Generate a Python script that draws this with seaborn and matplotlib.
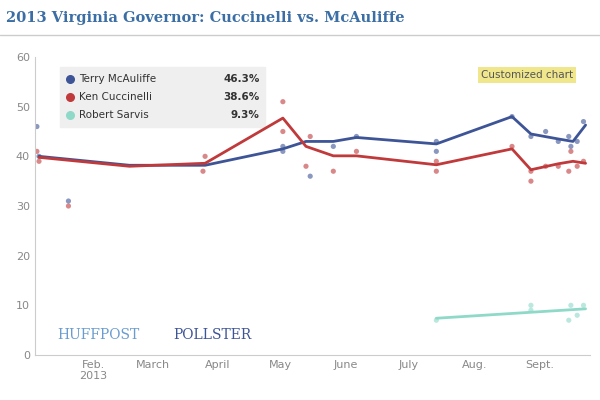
import pandas as pd
import numpy as np
import matplotlib.pyplot as plt
import seaborn as sns

# trend lines
mca_dates = ['2013-01-06', '2013-02-18', '2013-03-26', '2013-05-02', '2013-05-13', '2013-05-26',
             '2013-06-06', '2013-07-14', '2013-08-19', '2013-08-28', '2013-09-10', '2013-09-17', '2013-09-23']
mca_trend = [40.0, 38.2, 38.2, 41.5, 43.0, 43.0, 43.8, 42.5, 48.0, 44.5, 43.5, 43.0, 46.3]
cuc_trend = [39.8, 38.0, 38.6, 47.7, 42.0, 40.1, 40.1, 38.3, 41.5, 37.3, 38.5, 39.0, 38.6]
sar_dates = ['2013-07-14', '2013-09-23']
sar_trend = [7.4, 9.3]

# polls
mca_poll_dates = ['2013-01-05', '2013-01-06', '2013-01-20', '2013-05-02', '2013-05-02', '2013-05-15',
                  '2013-05-26', '2013-06-06', '2013-07-14', '2013-07-14', '2013-08-19', '2013-08-28',
                  '2013-09-04', '2013-09-10', '2013-09-15', '2013-09-16', '2013-09-19', '2013-09-22']
mca_polls = [46, 40, 31, 42, 41, 36, 42, 44, 41, 43, 48, 44, 45, 43, 44, 42, 43, 47]
cuc_poll_dates = ['2013-01-05', '2013-01-06', '2013-01-20', '2013-03-25', '2013-03-26', '2013-05-02',
                  '2013-05-02', '2013-05-13', '2013-05-15', '2013-05-26', '2013-06-06', '2013-07-14',
                  '2013-07-14', '2013-08-19', '2013-08-28', '2013-08-28', '2013-09-04', '2013-09-10',
                  '2013-09-15', '2013-09-16', '2013-09-19', '2013-09-22']
cuc_polls = [41, 39, 30, 37, 40, 51, 45, 38, 44, 37, 41, 37, 39, 42, 35, 37, 38, 38, 37, 41, 38, 39]
sar_poll_dates = ['2013-07-14', '2013-08-28', '2013-08-28', '2013-09-15', '2013-09-16', '2013-09-19', '2013-09-22']
sar_polls = [7, 9, 10, 7, 10, 8, 10]

blue, red, teal = '#3d5496', '#c0393b', '#8fd9c9'

sns.set_style('white')
fig = plt.figure(figsize=(6, 4), dpi=100)
ax = fig.add_axes([0.058, 0.1125, 0.925, 0.745])

def pts(d, v):
    return pd.DataFrame({'d': pd.to_datetime(d), 'v': v})

for d, v, c in [(mca_poll_dates, mca_polls, blue), (cuc_poll_dates, cuc_polls, red), (sar_poll_dates, sar_polls, teal)]:
    sns.scatterplot(data=pts(d, v), x='d', y='v', color=c, alpha=0.6, s=14, edgecolor='none', ax=ax)
for d, v, c in [(mca_dates, mca_trend, blue), (mca_dates, cuc_trend, red), (sar_dates, sar_trend, teal)]:
    sns.lineplot(data=pts(d, v), x='d', y='v', color=c, lw=2, ax=ax)

ax.set_xlim(pd.Timestamp('2013-01-04'), pd.Timestamp('2013-09-25'))
ax.set_ylim(0, 60)
ax.set_yticks(range(0, 61, 10))
ticks = pd.to_datetime(['2013-02-01', '2013-03-01', '2013-04-01', '2013-05-01', '2013-06-01',
                        '2013-07-01', '2013-08-01', '2013-09-01'])
ax.set_xticks(ticks)
ax.set_xticklabels(['Feb.\n2013', 'March', 'April', 'May', 'June', 'July', 'Aug.', 'Sept.'])
ax.tick_params(labelsize=8, colors='#888888', length=0)
ax.set_xlabel('')
ax.set_ylabel('')
for s in ['top', 'right']:
    ax.spines[s].set_visible(False)
for s in ['left', 'bottom']:
    ax.spines[s].set_color('#cccccc')

fig.text(0.01, 0.955, '2013 Virginia Governor: Cuccinelli vs. McAuliffe', family='DejaVu Serif',
         weight='bold', color='#3a6ea5', fontsize=10.5, va='center')
fig.add_artist(plt.Line2D([0, 1], [0.912, 0.912], color='#cccccc', lw=1))

# legend box
ax.add_patch(plt.Rectangle((0.045, 0.765), 0.37, 0.2, transform=ax.transAxes, color='#efefef', zorder=1))
for i, (name, val, c) in enumerate([('Terry McAuliffe', '46.3%', blue), ('Ken Cuccinelli', '38.6%', red),
                                    ('Robert Sarvis', '9.3%', teal)]):
    y = 0.925 - i * 0.06
    ax.scatter([0.063], [y], transform=ax.transAxes, color=c, s=30, zorder=3)
    ax.text(0.08, y, name, transform=ax.transAxes, va='center', fontsize=7.5, color='#333333')
    ax.text(0.405, y, val, transform=ax.transAxes, va='center', ha='right', fontsize=7.5, weight='bold', color='#333333')

ax.text(0.97, 0.94, 'Customized chart', transform=ax.transAxes, ha='right', va='center', fontsize=7.5,
        color='#555555', bbox=dict(boxstyle='square,pad=0.3', fc='#f0e68c', ec='none'))
ax.text(0.04, 0.055, 'HUFFPOST', transform=ax.transAxes, family='DejaVu Serif', fontsize=10, color='#6a9ccf')
ax.text(0.25, 0.055, 'POLLSTER', transform=ax.transAxes, family='DejaVu Serif', fontsize=10, color='#3d5496')

fig.savefig('out.png')
